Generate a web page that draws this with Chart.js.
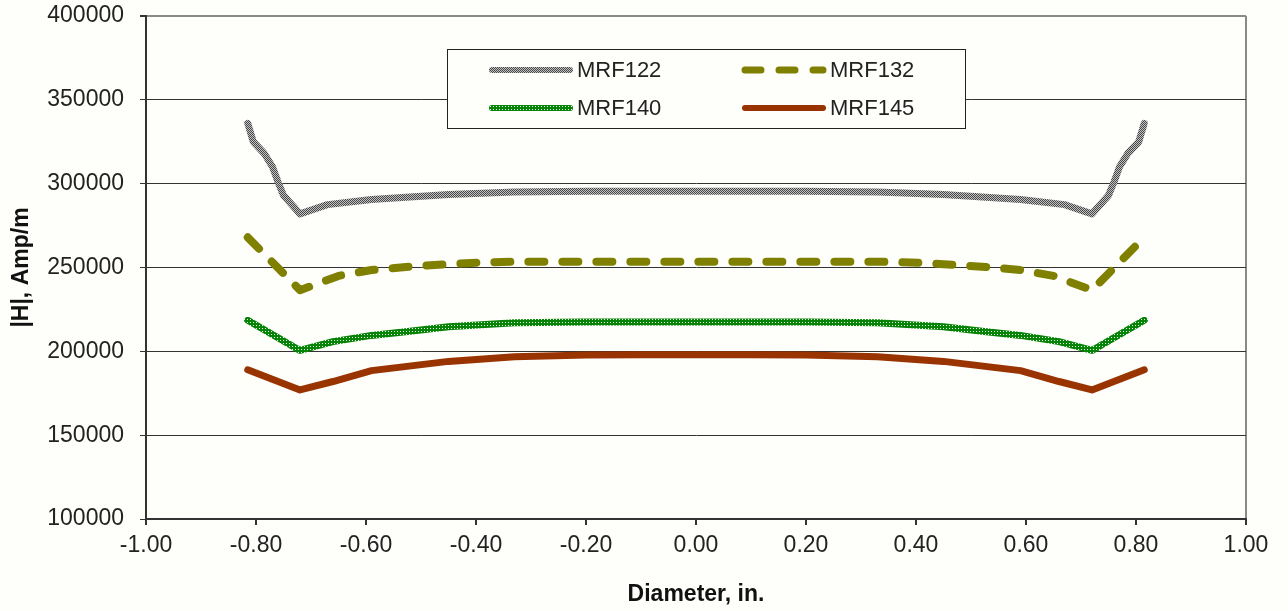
<!DOCTYPE html>
<html>
<head>
<meta charset="utf-8">
<script src="https://cdn.jsdelivr.net/npm/chart.js@4.4.0/dist/chart.umd.min.js"></script>
<style>
  html, body { margin: 0; padding: 0; background: #fefefa; }
  #wrap { width: 1288px; height: 611px; }
</style>
</head>
<body>
<div id="wrap"><canvas id="hChart" width="1288" height="611"></canvas></div>
<script>
// diameter positions (in.) and |H| values (Amp/m)
var x122 = [-0.815, -0.805, -0.785, -0.77, -0.76, -0.75, -0.72, -0.67, -0.59, -0.52, -0.45, -0.33, -0.2, -0.1, 0,
            0.1, 0.2, 0.33, 0.45, 0.52, 0.59, 0.67, 0.72, 0.75, 0.76, 0.77, 0.785, 0.805, 0.815];
var h122 = [336000, 325000, 318000, 310000, 301000, 293000, 282000, 287500, 290500, 292000, 293500, 295000, 295500, 295500, 295500,
            295500, 295500, 295000, 293500, 292000, 290500, 287500, 282000, 293000, 301000, 310000, 318000, 325000, 336000];

var x132 = [-0.815, -0.72, -0.65, -0.59, -0.52, -0.45, -0.39, -0.33, -0.2, -0.1, 0,
            0.1, 0.2, 0.33, 0.39, 0.45, 0.52, 0.59, 0.65, 0.72, 0.815];
var h132 = [268000, 236500, 245000, 248500, 250500, 252000, 253000, 253500, 253500, 253500, 253500,
            253500, 253500, 253500, 253000, 252000, 250500, 248500, 245000, 236500, 268000];

var x140 = [-0.815, -0.72, -0.66, -0.59, -0.52, -0.45, -0.33, -0.2, -0.1, 0,
            0.1, 0.2, 0.33, 0.45, 0.52, 0.59, 0.66, 0.72, 0.815];
var h140 = [218500, 200500, 205800, 209500, 212000, 214700, 217000, 217500, 217500, 217500,
            217500, 217500, 217000, 214700, 212000, 209500, 205800, 200500, 218500];

var x145 = [-0.815, -0.72, -0.66, -0.59, -0.45, -0.33, -0.2, -0.1, 0,
            0.1, 0.2, 0.33, 0.45, 0.59, 0.66, 0.72, 0.815];
var h145 = [189000, 177000, 182000, 188500, 194000, 196800, 197800, 198000, 198000,
            198000, 197800, 196800, 194000, 188500, 182000, 177000, 189000];

var seriesNames = ['MRF122', 'MRF132', 'MRF140', 'MRF145'];
var xTicks = [-1.0, -0.8, -0.6, -0.4, -0.2, 0, 0.2, 0.4, 0.6, 0.8, 1.0];
var yTicks = [100000, 150000, 200000, 250000, 300000, 350000, 400000];

function pts(xs, ys) {
  return xs.map(function (x, i) { return { x: x, y: ys[i] }; });
}

// checkered gray and dotted green line textures
function makePattern(size, base, spots, spotColor) {
  var c = document.createElement('canvas');
  c.width = size; c.height = size;
  var g = c.getContext('2d');
  g.fillStyle = base;
  g.fillRect(0, 0, size, size);
  g.fillStyle = spotColor;
  spots.forEach(function (p) { g.fillRect(p[0], p[1], 1, 1); });
  return g.createPattern(c, 'repeat');
}
var grayPat = makePattern(2, '#c2c2c2', [[0, 0], [1, 1]], '#474747');
var greenPat = makePattern(3, '#078407', [[1, 1]], '#e8ffe8');

var font = "'Liberation Sans', Arial, sans-serif";

var legendBox = {
  id: 'legendBox',
  afterDatasetsDraw: function (chart) {
    var ctx = chart.ctx;
    var ds = chart.data.datasets;
    ctx.save();
    ctx.fillStyle = '#fefefa';
    ctx.fillRect(447.5, 49.5, 518, 79);
    ctx.strokeStyle = '#222';
    ctx.lineWidth = 1;
    ctx.strokeRect(447.5, 49.5, 518, 79);
    var slots = [[492, 570, 70], [745, 823, 70], [492, 570, 108], [745, 823, 108]];
    ds.forEach(function (d, i) {
      var s = slots[i];
      ctx.beginPath();
      ctx.strokeStyle = d.borderColor;
      ctx.lineWidth = d.borderWidth - 1;
      ctx.lineCap = d.borderCapStyle || 'round';
      ctx.setLineDash(d.borderDash || []);
      ctx.moveTo(s[0], s[2]);
      ctx.lineTo(s[1], s[2]);
      ctx.stroke();
      ctx.setLineDash([]);
      ctx.fillStyle = '#222';
      ctx.font = '22px ' + font;
      ctx.textBaseline = 'middle';
      ctx.fillText(d.label, s[1] + 7, s[2] + 1);
    });
    ctx.restore();
  }
};

new Chart(document.getElementById('hChart'), {
  type: 'scatter',
  data: {
    datasets: [
      { label: seriesNames[0], data: pts(x122, h122), borderColor: grayPat, borderWidth: 7,
        borderCapStyle: 'round', borderJoinStyle: 'round' },
      { label: seriesNames[1], data: pts(x132, h132), borderColor: '#808000', borderWidth: 8,
        borderDash: [16, 18], borderCapStyle: 'round', borderJoinStyle: 'round' },
      { label: seriesNames[2], data: pts(x140, h140), borderColor: greenPat, borderWidth: 7,
        borderCapStyle: 'round', borderJoinStyle: 'round' },
      { label: seriesNames[3], data: pts(x145, h145), borderColor: '#993300', borderWidth: 7,
        borderCapStyle: 'round', borderJoinStyle: 'round' }
    ].map(function (d) {
      d.showLine = true; d.pointRadius = 0; d.fill = false; d.tension = 0;
      return d;
    })
  },
  options: {
    responsive: false,
    animation: false,
    layout: { padding: { left: 0, top: 16, right: 42, bottom: 0 } },
    plugins: { legend: { display: false }, tooltip: { enabled: false } },
    scales: {
      x: {
        type: 'linear', min: -1, max: 1,
        afterBuildTicks: function (s) { s.ticks = xTicks.map(function (v) { return { value: v }; }); },
        afterFit: function (s) { s.height = 92; },
        ticks: { color: '#222', font: { family: font, size: 23 }, padding: 7, maxRotation: 0,
                 callback: function (v) { return v.toFixed(2); } },
        grid: { drawOnChartArea: true, tickLength: 6, tickColor: '#333',
                color: function (c) { return c.index === xTicks.length - 1 ? '#8a8a8a' : 'rgba(0,0,0,0)'; },
                lineWidth: 2 },
        border: { color: '#333', width: 2 },
        title: { display: true, text: 'Diameter, in.', color: '#111',
                 font: { family: font, size: 23, weight: 'bold' }, padding: { top: 0, bottom: 3 } }
      },
      y: {
        type: 'linear', min: 100000, max: 400000,
        afterBuildTicks: function (s) { s.ticks = yTicks.map(function (v) { return { value: v }; }); },
        afterFit: function (s) { s.width = 146; s.paddingTop = 0; s.paddingBottom = 0; },
        ticks: { color: '#222', font: { family: font, size: 23 }, padding: 16,
                 callback: function (v) { return String(v); } },
        grid: { tickLength: 6, tickColor: '#333', lineWidth: function (c) { return c.index === yTicks.length - 1 ? 2 : 1; },
                color: function (c) { return c.index === yTicks.length - 1 ? '#8a8a8a' : '#333'; } },
        border: { color: '#333', width: 2 },
        title: { display: true, text: '|H|, Amp/m', color: '#111',
                 font: { family: font, size: 23, weight: 'bold' }, padding: { top: 8, bottom: 0 } }
      }
    }
  },
  plugins: [legendBox]
});
</script>
</body>
</html>
